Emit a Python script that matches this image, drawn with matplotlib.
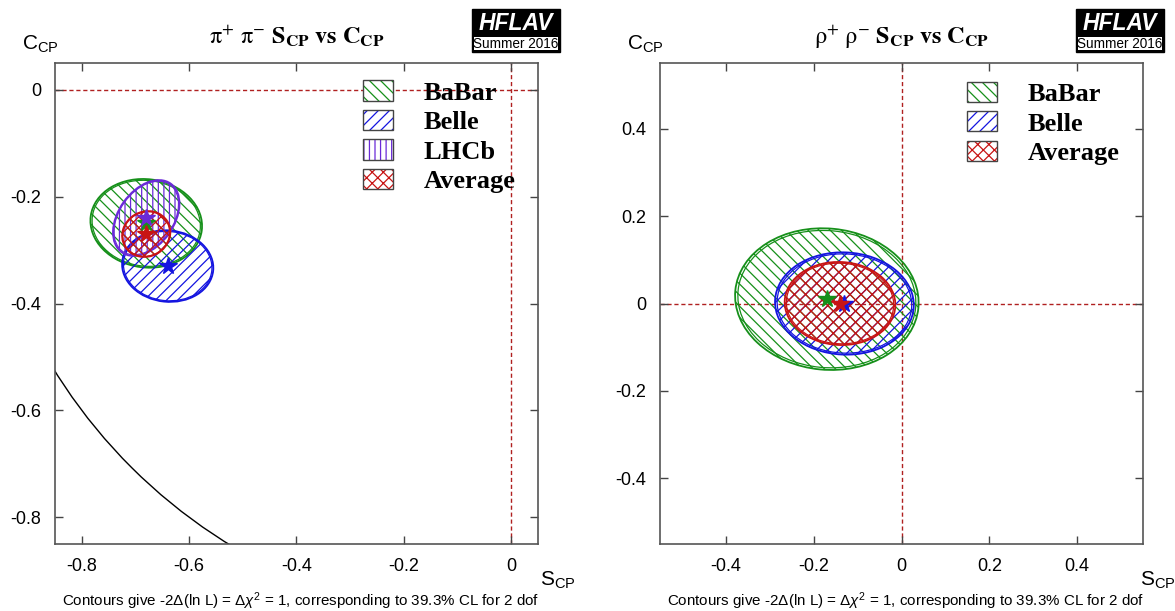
import numpy as np
import matplotlib
matplotlib.use("Agg")
import matplotlib.pyplot as plt
from matplotlib.patches import Ellipse, Circle, Patch, Rectangle
from matplotlib.legend_handler import HandlerTuple
from matplotlib.font_manager import FontProperties

# pi+ pi- : S_CP, C_CP with 1-sigma (stat+syst) errors and correlation
pp_names = ["BaBar", "Belle", "LHCb", "Average"]
pp_S = [-0.68, -0.64, -0.68, -0.68]
pp_C = [-0.25, -0.33, -0.24, -0.27]
pp_sS = [0.104, 0.085, 0.062, 0.045]
pp_sC = [0.083, 0.067, 0.071, 0.043]
pp_rho = [-0.06, -0.05, 0.38, 0.08]

# rho+ rho- : same quantities
rr_names = ["BaBar", "Belle", "Average"]
rr_S = [-0.17, -0.13, -0.14]
rr_C = [0.01, 0.00, 0.00]
rr_sS = [0.209, 0.158, 0.126]
rr_sC = [0.162, 0.117, 0.095]
rr_rho = [-0.05, -0.03, -0.03]

pp_xticks = [-0.8, -0.6, -0.4, -0.2, 0]
pp_xlabels = ["-0.8", "-0.6", "-0.4", "-0.2", "0"]
pp_yticks = [0, -0.2, -0.4, -0.6, -0.8]
pp_ylabels = ["0", "-0.2", "-0.4", "-0.6", "-0.8"]
rr_xticks = [-0.4, -0.2, 0, 0.2, 0.4]
rr_xlabels = ["-0.4", "-0.2", "0", "0.2", "0.4"]
rr_yticks = [-0.4, -0.2, 0, 0.2, 0.4]
rr_ylabels = ["-0.4", "-0.2", "0", "0.2", "0.4"]

STYLE = {
    "BaBar": ("#16901a", "\\\\\\"),
    "Belle": ("#1414e0", "///"),
    "LHCb": ("#6a2ad8", "|||"),
    "Average": ("#c81414", "xxx"),
}

plt.rcParams["font.family"] = ["Liberation Sans", "DejaVu Sans"]
plt.rcParams["mathtext.fontset"] = "custom"
plt.rcParams["mathtext.rm"] = "Liberation Sans"
plt.rcParams["mathtext.it"] = "Liberation Sans:italic"
plt.rcParams["mathtext.bf"] = "Liberation Sans:bold"
plt.rcParams["hatch.linewidth"] = 0.9

W, H = 1175, 611
fig = plt.figure(figsize=(W / 100, H / 100), dpi=100)


def fx(px):
    return px / W


def fy(py):
    return 1 - py / H


def ellipse(ax, s, c, ss, sc, rho, color, hatch, z):
    cov = np.array([[ss**2, rho * ss * sc], [rho * ss * sc, sc**2]])
    vals, vecs = np.linalg.eigh(cov)
    ang = np.degrees(np.arctan2(vecs[1, 1], vecs[0, 1]))
    w, h = 2 * np.sqrt(vals[1]), 2 * np.sqrt(vals[0])
    ax.add_patch(Ellipse((s, c), w, h, angle=ang, facecolor="none",
                         edgecolor=color, hatch=hatch, lw=1.3, zorder=z))
    ax.add_patch(Ellipse((s, c), w * 0.97, h * 0.97, angle=ang, fill=False,
                         edgecolor=color, lw=0.9, zorder=z))


def panel(rect, names, S, C, sS, sC, rho, xt, xl, yt, yl, lim, title, leg_anchor):
    ax = fig.add_axes(rect)
    ax.set_xlim(*lim[0])
    ax.set_ylim(*lim[1])
    ax.axhline(0, color="#b02020", ls=(0, (3, 2)), lw=1, zorder=1)
    ax.axvline(0, color="#b02020", ls=(0, (3, 2)), lw=1, zorder=1)
    for i, n in enumerate(names):
        col, hat = STYLE[n]
        ellipse(ax, S[i], C[i], sS[i], sC[i], rho[i], col, hat, 2 + i)
    for i, n in enumerate(names):
        ax.plot(S[i], C[i], marker="*", ms=13, color=STYLE[n][0], zorder=10, ls="none")
    ax.set_xticks(xt, xl)
    ax.set_yticks(yt, yl)
    ax.tick_params(direction="in", length=6, width=1, top=True, right=True,
                   labelsize=13, pad=10, color="#444")
    for sp in ax.spines.values():
        sp.set_color("#555")
        sp.set_linewidth(1.2)
    ax.set_title(title, fontsize=17.5, pad=14, math_fontfamily="stix")
    handles = [(Patch(facecolor="white", edgecolor=STYLE[n][0], hatch=STYLE[n][1], lw=0),
                Patch(facecolor="none", edgecolor="#444", lw=1)) for n in names]
    ax.legend(handles, names, handler_map={tuple: HandlerTuple(ndivide=1, pad=0)},
              loc="upper left", bbox_to_anchor=leg_anchor, frameon=False,
              prop=FontProperties(family="Liberation Serif", weight="bold", size=19),
              handlelength=1.14, handleheight=0.8, handletextpad=1.14,
              labelspacing=0.2, borderpad=0, borderaxespad=0)
    return ax


axL = panel([fx(55), fy(544), fx(483), 481 / H], pp_names, pp_S, pp_C, pp_sS, pp_sC, pp_rho,
            pp_xticks, pp_xlabels, pp_yticks, pp_ylabels, ((-0.85, 0.05), (-0.85, 0.05)),
            r"$\mathrm{\pi^{+}\ \pi^{-}}\ \mathbf{S_{CP}\ vs\ C_{CP}}$", (0.638, 0.964))
# physical boundary S^2 + C^2 = 1
axL.add_patch(Circle((0, 0), 1, fill=False, edgecolor="black", lw=1, zorder=1))

axR = panel([fx(660), fy(544), fx(483), 481 / H], rr_names, rr_S, rr_C, rr_sS, rr_sC, rr_rho,
            rr_xticks, rr_xlabels, rr_yticks, rr_ylabels, ((-0.55, 0.55), (-0.55, 0.55)),
            r"$\mathrm{\rho^{+}\ \rho^{-}}\ \mathbf{S_{CP}\ vs\ C_{CP}}$", (0.636, 0.961))

note = r"Contours give -2$\Delta$(ln L) = $\Delta\chi^{2}$ = 1, corresponding to 39.3% CL for 2 dof"
for x0, ylab_x, slab_x, logo_x in [(55, 22, 540, 472), (660, 627, 1140, 1076)]:
    fig.text(fx(ylab_x), fy(44), r"C$_{\mathrm{CP}}$", fontsize=15, va="center", ha="left")
    fig.text(fx(slab_x), fy(580), r"S$_{\mathrm{CP}}$", fontsize=15, va="center", ha="left")
    fig.text(fx(x0 + 246), fy(601), note, fontsize=10.9, ha="center", va="center")
    # HFLAV logo
    fig.add_artist(Rectangle((fx(logo_x), fy(52)), fx(88), 43 / H, transform=fig.transFigure,
                             facecolor="black", edgecolor="black"))
    fig.add_artist(Rectangle((fx(logo_x + 2), fy(50)), fx(84), 13 / H, transform=fig.transFigure,
                             facecolor="white", edgecolor="none"))
    fig.text(fx(logo_x + 44), fy(23), "HFLAV", color="white", fontsize=16.5, fontweight="bold",
             fontstyle="italic", ha="center", va="center")
    fig.text(fx(logo_x + 44), fy(43.5), "Summer 2016", color="black", fontsize=9.8,
             ha="center", va="center")

fig.savefig("out.png", dpi=100)
